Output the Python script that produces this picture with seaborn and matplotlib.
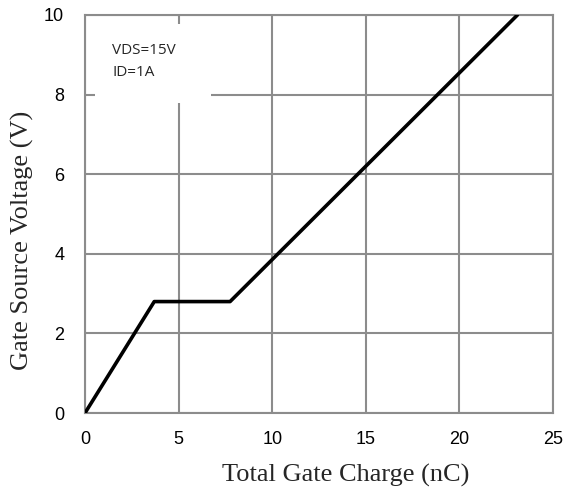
import matplotlib
matplotlib.use('Agg')
import matplotlib.pyplot as plt
import matplotlib.patches as patches
import pandas as pd
import seaborn as sns

# gate charge curve (nC vs V)
charge = [0, 3.7, 7.75, 23.1]
voltage = [0, 2.8, 2.8, 10]
xticks = [0, 5, 10, 15, 20, 25]
yticks = [0, 2, 4, 6, 8, 10]

df = pd.DataFrame({'Qg': charge, 'Vgs': voltage})

sns.set_style('white')
grid_col = '#8c8c8c'

fig = plt.figure(figsize=(5.67, 4.9), dpi=100)
ax = fig.add_axes([0.1499, 0.1571, 0.8254, 0.8123])

sns.lineplot(data=df, x='Qg', y='Vgs', color='black', linewidth=2.6,
             sort=False, ax=ax, zorder=5)

ax.set_xlim(0, 25)
ax.set_ylim(0, 10)
ax.set_xticks(xticks)
ax.set_yticks(yticks)
ax.grid(True, color=grid_col, linewidth=1.5)
ax.set_axisbelow(True)
for s in ax.spines.values():
    s.set_color(grid_col)
    s.set_linewidth(1.5)
ax.tick_params(axis='both', direction='out', length=5, width=1.5, color=grid_col,
               labelsize=13, labelcolor='black')
ax.tick_params(axis='x', pad=8)
ax.tick_params(axis='y', pad=10)
for lab in ax.get_xticklabels() + ax.get_yticklabels():
    lab.set_family('Liberation Sans')

ax.set_xlabel('Total Gate Charge (nC)', family='Liberation Serif', fontsize=19)
ax.set_ylabel('Gate Source Voltage (V)', family='Liberation Serif', fontsize=19)
ax.xaxis.set_label_coords(0.556, -0.128)
ax.yaxis.set_label_coords(-0.108, 0.435)

# annotation box with conditions
box = patches.Rectangle((0.021, 0.779), 0.248, 0.198, transform=ax.transAxes,
                        facecolor='white', edgecolor='none', zorder=3)
ax.add_patch(box)
ax.text(0.058, 0.93, 'VDS=15V\nID=1A', transform=ax.transAxes, va='top', ha='left',
        fontsize=11, family='Open Sans', linespacing=1.65, zorder=4)

fig.savefig('out.png', dpi=100)
